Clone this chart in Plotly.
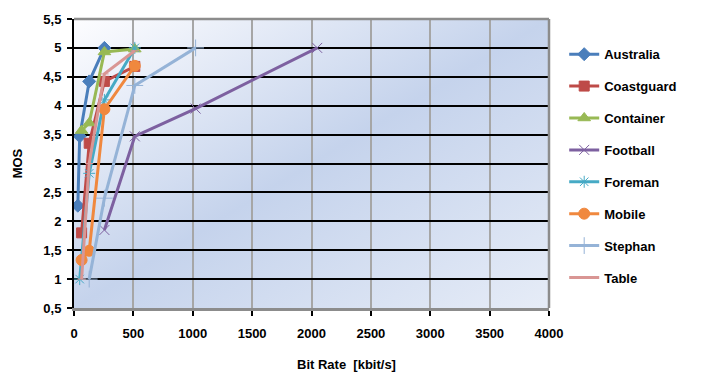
import base64
import plotly.graph_objects as go

# MOS versus bit rate for eight test sequences
australia_x = [32, 48, 128, 256]
australia_y = [2.27, 3.47, 4.42, 5.0]
coastguard_x = [64, 128, 256, 512]
coastguard_y = [1.8, 3.35, 4.42, 4.68]
container_x = [64, 128, 256, 512]
container_y = [3.57, 3.7, 4.93, 4.98]
football_x = [256, 512, 1024, 2048]
football_y = [1.85, 3.47, 3.95, 5.0]
foreman_x = [48, 128, 256, 512]
foreman_y = [1.0, 2.83, 4.1, 5.0]
mobile_x = [64, 128, 256, 512]
mobile_y = [1.33, 1.49, 3.94, 4.69]
stephan_x = [128, 256, 512, 1024]
stephan_y = [1.0, 2.4, 4.35, 5.0]
table_x = [64, 128, 256, 512]
table_y = [1.0, 3.0, 4.55, 4.95]

x_ticks = [0, 500, 1000, 1500, 2000, 2500, 3000, 3500, 4000]
y_ticks = [0.5, 1, 1.5, 2, 2.5, 3, 3.5, 4, 4.5, 5, 5.5]
y_tick_text = ["0,5", "1", "1,5", "2", "2,5", "3", "3,5", "4", "4,5", "5", "5,5"]

series = [
    ("Australia", australia_x, australia_y, "#4a7ebb", "diamond", 10),
    ("Coastguard", coastguard_x, coastguard_y, "#be4b48", "square", 10),
    ("Container", container_x, container_y, "#98b954", "triangle-up", 11),
    ("Football", football_x, football_y, "#7d60a0", "x-thin-open", 10),
    ("Foreman", foreman_x, foreman_y, "#46aac5", "asterisk-open", 10),
    ("Mobile", mobile_x, mobile_y, "#f0883e", "circle", 11),
    ("Stephan", stephan_x, stephan_y, "#95b3d7", "cross-thin-open", 12),
    ("Table", table_x, table_y, "#d99694", "line-ew-open", 6),
]

font_family = "Liberation Sans, Arial, sans-serif"

fig = go.Figure()
for name, xs, ys, color, symbol, size in series:
    fig.add_trace(go.Scatter(
        x=xs, y=ys, name=name, legendgroup=name,
        mode="lines+markers",
        line=dict(color=color, width=3),
        marker=dict(symbol=symbol, size=size, color=color,
                    line=dict(color=color, width=1)),
    ))

# diagonal blue gradient behind the plot area
svg = (
    '<svg xmlns="http://www.w3.org/2000/svg" width="100" height="100" '
    'viewBox="0 0 100 100" preserveAspectRatio="none">'
    '<defs><linearGradient id="g" x1="0" y1="0" x2="1" y2="1">'
    '<stop offset="0" stop-color="#fdfdff"/>'
    '<stop offset="0.5" stop-color="#c5d3ec"/>'
    '<stop offset="1" stop-color="#e6ecf7"/>'
    '</linearGradient></defs>'
    '<rect width="100" height="100" fill="url(#g)"/></svg>'
)
bg_src = "data:image/svg+xml;base64," + base64.b64encode(svg.encode()).decode()

fig.update_layout(
    width=702, height=377,
    margin=dict(l=74, r=153, t=15, b=69),
    paper_bgcolor="white",
    plot_bgcolor="rgba(0,0,0,0)",
    font=dict(family=font_family, size=13, color="black", weight="bold"),
    images=[dict(source=bg_src, xref="paper", yref="paper", x=0, y=1,
                 sizex=1, sizey=1, sizing="stretch", layer="below",
                 xanchor="left", yanchor="top")],
    legend=dict(x=1.032, y=0.93, xanchor="left", yanchor="top",
                font=dict(size=13, family=font_family, weight="bold"),
                tracegroupgap=12, bgcolor="rgba(0,0,0,0)", itemwidth=30),
    shapes=[
        dict(type="line", xref="paper", yref="paper", x0=0, x1=1, y0=1, y1=1,
             line=dict(color="#8c8c8c", width=2.5)),
        dict(type="line", xref="paper", yref="paper", x0=1, x1=1, y0=0, y1=1,
             line=dict(color="#8c8c8c", width=2.5)),
    ],
    annotations=[
        dict(text="Bit Rate  [kbit/s]", xref="paper", yref="paper",
             x=(346 - 74) / 475, y=-0.195, xanchor="center", yanchor="middle",
             showarrow=False, font=dict(size=13, family=font_family, weight="bold")),
    ],
)

fig.update_xaxes(
    range=[0, 4000], tickvals=x_ticks, ticktext=[str(v) for v in x_ticks],
    showgrid=True, gridcolor="#a6a6a6", gridwidth=2,
    showline=True, linecolor="#8c8c8c", linewidth=3,
    ticks="outside", ticklen=5, tickcolor="black", tickwidth=2,
    ticklabelstandoff=6,
    zeroline=False, tickfont=dict(size=13, family=font_family, weight="bold"),
)
fig.update_yaxes(
    range=[0.5, 5.5], tickvals=y_ticks, ticktext=y_tick_text,
    showgrid=True, gridcolor="black", gridwidth=1.5,
    showline=True, linecolor="black", linewidth=2,
    ticks="outside", ticklen=5, tickcolor="black", tickwidth=2,
    ticklabelstandoff=3,
    zeroline=False, tickfont=dict(size=13, family=font_family, weight="bold"),
    title=dict(text="MOS", standoff=18,
               font=dict(size=13, family=font_family, weight="bold")),
)

fig.write_html("out.html")
